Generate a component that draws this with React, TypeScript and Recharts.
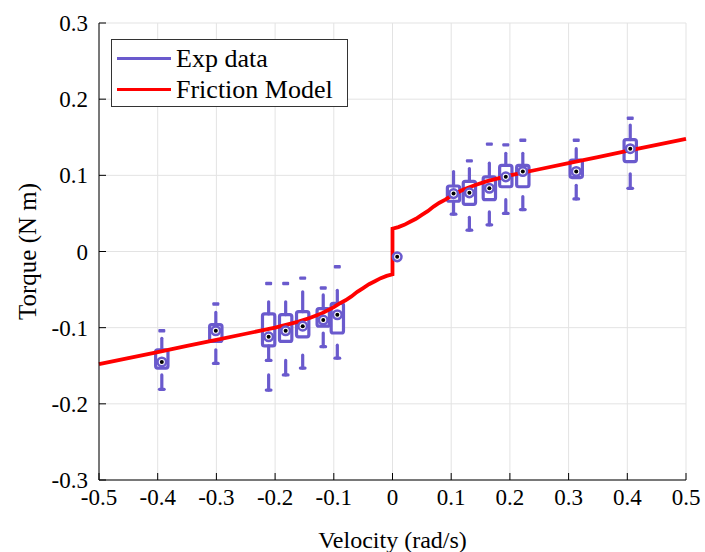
import React from "react";
import {
  ComposedChart,
  Line,
  Scatter,
  XAxis,
  YAxis,
  CartesianGrid,
  ReferenceArea,
  ReferenceLine,
} from "recharts";

// axis ticks
const xTicks = [-0.5, -0.4, -0.3, -0.2, -0.1, 0, 0.1, 0.2, 0.3, 0.4, 0.5];
const yTicks = [-0.3, -0.2, -0.1, 0, 0.1, 0.2, 0.3];

// experimental boxes (velocity groups)
const boxX = [-0.393, -0.301, -0.211, -0.182, -0.153, -0.118, -0.094, 0.008, 0.104, 0.131, 0.165, 0.193, 0.222, 0.313, 0.405];
const outHi = [-0.104, -0.069, -0.042, -0.042, -0.035, -0.048, -0.02, null, null, 0.119, 0.141, 0.14, 0.146, 0.146, 0.175];
const whiskHi = [-0.114, -0.08, -0.066, -0.066, -0.053, -0.057, -0.051, -0.007, 0.105, 0.109, 0.116, 0.129, 0.129, 0.135, 0.166];
const q3 = [-0.129, -0.096, -0.082, -0.083, -0.079, -0.075, -0.068, -0.007, 0.086, 0.092, 0.098, 0.113, 0.113, 0.12, 0.147];
const median = [-0.145, -0.104, -0.112, -0.104, -0.098, -0.09, -0.083, -0.007, 0.076, 0.077, 0.083, 0.098, 0.105, 0.105, 0.135];
const q1 = [-0.153, -0.118, -0.124, -0.118, -0.112, -0.098, -0.107, -0.007, 0.066, 0.062, 0.068, 0.085, 0.085, 0.097, 0.118];
const whiskLo = [-0.153, -0.118, -0.143, -0.118, -0.112, -0.098, -0.107, -0.007, 0.049, 0.062, 0.068, 0.085, 0.085, 0.097, 0.118];
// detached lower pieces [start, end]
const lowStart = [-0.162, -0.129, -0.162, -0.143, -0.136, -0.107, -0.123, null, null, 0.045, 0.052, 0.068, 0.072, 0.087, 0.102];
const lowEnd = [-0.181, -0.147, -0.182, -0.162, -0.153, -0.125, -0.14, null, null, 0.028, 0.035, 0.05, 0.055, 0.069, 0.083];

// friction model curve
const fricV = [-0.5, -0.45, -0.4, -0.35, -0.3, -0.25, -0.2, -0.18, -0.16, -0.14, -0.12, -0.1, -0.09, -0.08, -0.07, -0.06, -0.05, -0.04, -0.03, -0.02, -0.01, 0, 0, 0.01, 0.02, 0.03, 0.04, 0.05, 0.06, 0.07, 0.08, 0.09, 0.1, 0.12, 0.14, 0.16, 0.18, 0.2, 0.25, 0.3, 0.35, 0.4, 0.45, 0.5];
const fricT = [-0.148, -0.14, -0.132, -0.124, -0.116, -0.108, -0.1, -0.096, -0.092, -0.087, -0.081, -0.073, -0.068, -0.064, -0.059, -0.053, -0.048, -0.043, -0.039, -0.035, -0.032, -0.03, 0.03, 0.032, 0.035, 0.039, 0.043, 0.048, 0.053, 0.059, 0.064, 0.068, 0.073, 0.081, 0.087, 0.092, 0.096, 0.1, 0.108, 0.116, 0.124, 0.132, 0.14, 0.148];

const legendItems = ["Exp data", "Friction Model"];

const PURPLE = "#6A5ACD";
const RED = "#FF0000";
const FONT = '"Liberation Serif", "Times New Roman", serif';
const HALF = 0.0105;
const CAP = 0.004;

const fric = fricV.map((x, i) => ({ x, y: fricT[i] }));
const medians = boxX.map((x, i) => ({ x, y: median[i] }));
const outliers = boxX
  .map((x, i) => ({ x, y: outHi[i] }))
  .filter((d) => d.y !== null);

const MedianDot = (props: any) => {
  const { cx, cy } = props;
  return (
    <g>
      <circle cx={cx} cy={cy} r={4.3} fill="#fff" stroke={PURPLE} strokeWidth={2.5} />
      <circle cx={cx} cy={cy} r={2} fill="#000" />
    </g>
  );
};

const Dash = (props: any) => {
  const { cx, cy } = props;
  return <rect x={cx - 3.5} y={cy - 1.7} width={7} height={3.4} rx={1} fill={PURPLE} />;
};

const emptyTick = () => <g />;

export default function App() {
  const tickStyle = { fill: "#000", fontSize: 23, fontFamily: FONT };
  const seg = (key: string, x1: number, y1: number, x2: number, y2: number) => (
    <ReferenceLine
      key={key}
      segment={[{ x: x1, y: y1 }, { x: x2, y: y2 }]}
      stroke={PURPLE}
      strokeWidth={3.2}
      strokeLinecap="round"
    />
  );

  return (
    <div style={{ position: "relative", width: 705, height: 552, background: "#fff", fontFamily: FONT }}>
      <style>{"body{margin:0}"}</style>
      <ComposedChart width={705} height={552} margin={{ top: 23, right: 19, left: 0, bottom: 0 }}>
        <CartesianGrid stroke="#e3e3e3" />
        <XAxis
          dataKey="x"
          type="number"
          domain={[-0.5, 0.5]}
          ticks={xTicks}
          interval={0}
          height={72}
          stroke="#000"
          tickSize={-7}
          tickMargin={16}
          tick={tickStyle}
          label={{ value: "Velocity (rad/s)", position: "center", dy: 23, fill: "#000", fontSize: 24, fontFamily: FONT }}
        />
        <YAxis
          dataKey="y"
          type="number"
          domain={[-0.3, 0.3]}
          ticks={yTicks}
          interval={0}
          width={99}
          stroke="#000"
          tickSize={-7}
          tickMargin={18}
          tick={tickStyle}
          label={{ value: "Torque (N m)", angle: -90, position: "center", dx: -22, fill: "#000", fontSize: 25, fontFamily: FONT }}
        />
        <XAxis xAxisId="top" orientation="top" type="number" domain={[-0.5, 0.5]} ticks={xTicks} interval={0} height={0} stroke="#000" tickSize={-7} tick={emptyTick} />
        <YAxis yAxisId="right" orientation="right" type="number" domain={[-0.3, 0.3]} ticks={yTicks} interval={0} width={0} stroke="#000" tickSize={-7} tick={emptyTick} />

        {boxX.map((x, i) => {
          const parts: any[] = [];
          if (whiskHi[i] > q3[i]) parts.push(seg(`wh${i}`, x, q3[i], x, whiskHi[i]));
          if (whiskLo[i] < q1[i]) {
            parts.push(seg(`wl${i}`, x, q1[i], x, whiskLo[i]));
            parts.push(seg(`wlc${i}`, x - CAP, whiskLo[i], x + CAP, whiskLo[i]));
          }
          if (lowStart[i] !== null && lowEnd[i] !== null) {
            parts.push(seg(`ls${i}`, x, lowStart[i] as number, x, lowEnd[i] as number));
            parts.push(seg(`lc${i}`, x - CAP, lowEnd[i] as number, x + CAP, lowEnd[i] as number));
          }
          if (q3[i] > q1[i]) {
            parts.push(
              <ReferenceArea
                key={`b${i}`}
                x1={x - HALF}
                x2={x + HALF}
                y1={q1[i]}
                y2={q3[i]}
                fill="#fff"
                fillOpacity={1}
                stroke={PURPLE}
                strokeWidth={3.2}
                radius={2}
              />
            );
          }
          return parts;
        })}

        <Scatter data={outliers} dataKey="y" shape={<Dash />} isAnimationActive={false} />
        <Scatter data={medians} dataKey="y" shape={<MedianDot />} isAnimationActive={false} />
        <Line data={fric} dataKey="y" type="linear" stroke={RED} strokeWidth={3.8} dot={false} activeDot={false} isAnimationActive={false} />
      </ComposedChart>

      <div
        style={{
          position: "absolute",
          left: 111,
          top: 39,
          width: 237,
          height: 68,
          border: "1px solid #333",
          background: "#fff",
          boxSizing: "border-box",
          padding: "3px 0 0 5px",
        }}
      >
        {legendItems.map((label, i) => (
          <div key={label} style={{ display: "flex", alignItems: "center", height: 31, fontSize: 26, color: "#000" }}>
            <span style={{ display: "inline-block", width: 54, height: 3.8, background: i === 0 ? PURPLE : RED, marginRight: 5 }} />
            <span>{label}</span>
          </div>
        ))}
      </div>
    </div>
  );
}
